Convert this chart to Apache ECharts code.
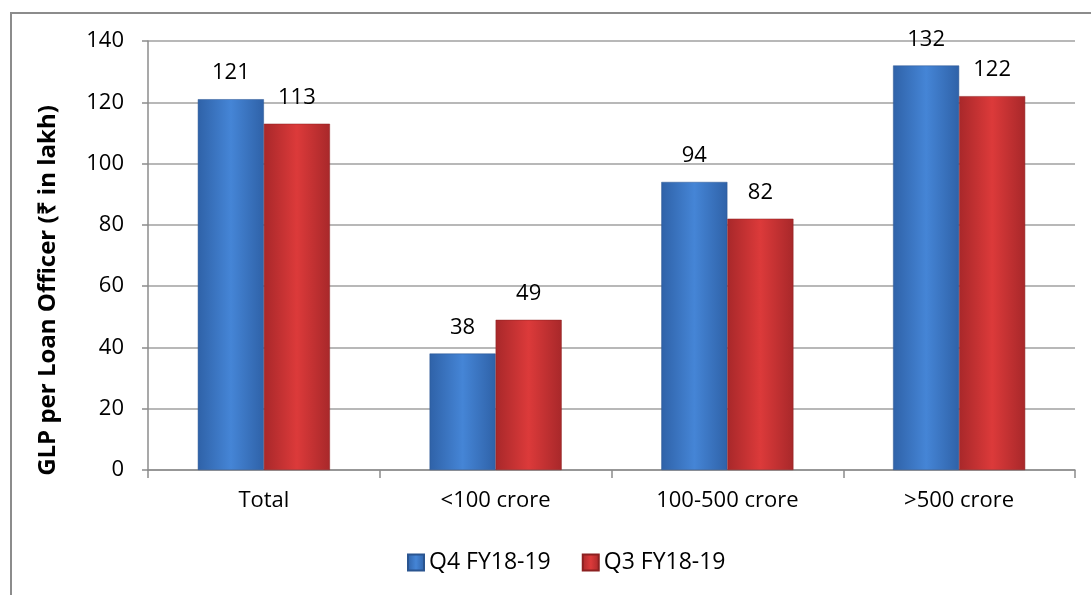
<!DOCTYPE html>
<html>
<head>
<meta charset="utf-8">
<script src="https://cdn.jsdelivr.net/npm/echarts@6/dist/echarts.min.js"></script>
<style>
  html, body { margin: 0; padding: 0; background: #fff; }
  #frame {
    position: absolute; left: 10px; top: 12px; width: 1090px; height: 600px;
    border: 2px solid #8c8c8c; box-sizing: border-box;
  }
  #chart { position: absolute; left: 0; top: 0; width: 1091px; height: 595px; }
</style>
</head>
<body>
<div id="frame"></div>
<div id="chart"></div>
<script>
const categories = ['Total', '<100 crore', '100-500 crore', '>500 crore'];
const q4Values = [121, 38, 94, 132];
const q3Values = [113, 49, 82, 122];
const yTicks = { min: 0, max: 140, interval: 20 };

const font = '"Open Sans", sans-serif';

function barGradient(edge, mid) {
  return new echarts.graphic.LinearGradient(0, 0, 1, 0, [
    { offset: 0, color: edge },
    { offset: 0.5, color: mid },
    { offset: 1, color: edge }
  ]);
}

const myChart = echarts.init(document.getElementById('chart'));
const option = {
  animation: false,
  grid: { left: 148, right: 16, top: 41, bottom: 125 },
  legend: {
    bottom: 16,
    left: 402,
    itemWidth: 16,
    itemHeight: 16,
    itemGap: 31,
    itemTextGap: 4,
    icon: 'rect',
    textStyle: { fontFamily: font, fontSize: 23, color: '#000' },
    data: ['Q4 FY18-19', 'Q3 FY18-19']
  },
  xAxis: {
    type: 'category',
    data: categories,
    axisLine: { lineStyle: { color: '#8c8c8c', width: 1.5 } },
    axisTick: { show: true, length: 8, lineStyle: { color: '#8c8c8c', width: 1.5 } },
    axisLabel: { fontFamily: font, fontSize: 22, color: '#000', margin: 20 }
  },
  yAxis: {
    type: 'value',
    min: yTicks.min,
    max: yTicks.max,
    interval: yTicks.interval,
    name: 'GLP per Loan Officer (₹ in lakh)',
    nameLocation: 'middle',
    nameGap: 88,
    nameTextStyle: { fontFamily: font, fontSize: 24, fontWeight: 'bold', color: '#000', padding: [0, 70, 0, 0] },
    axisLine: { show: true, lineStyle: { color: '#8c8c8c', width: 1.5 } },
    axisTick: { show: true, length: 6, lineStyle: { color: '#8c8c8c', width: 1.5 } },
    axisLabel: { fontFamily: font, fontSize: 22, color: '#000', margin: 24 },
    splitLine: { lineStyle: { color: '#a0a0a0', width: 1.5 } }
  },
  series: [
    {
      name: 'Q4 FY18-19',
      type: 'bar',
      data: q4Values,
      barGap: '0%',
      barCategoryGap: '43%',
      itemStyle: { color: barGradient('#2f62a8', '#4585d6'), borderColor: '#2a5590', borderWidth: 0.5 },
      label: { show: true, position: 'top', distance: 15, fontFamily: font, fontSize: 22, color: '#000' }
    },
    {
      name: 'Q3 FY18-19',
      type: 'bar',
      data: q3Values,
      itemStyle: { color: barGradient('#a8282a', '#dc3a3a'), borderColor: '#8c2020', borderWidth: 0.5 },
      label: { show: true, position: 'top', distance: 15, fontFamily: font, fontSize: 22, color: '#000' }
    }
  ]
};
myChart.setOption(option);
</script>
</body>
</html>
